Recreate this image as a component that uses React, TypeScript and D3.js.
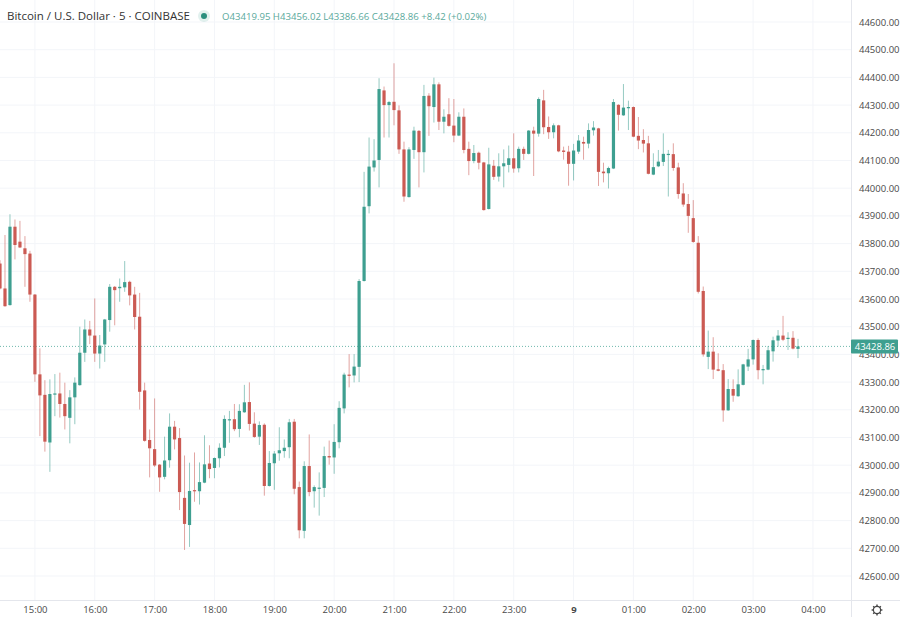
import { useEffect, useRef } from "react";
import * as d3 from "d3";

const opens = [
  43728,43638,43578,43861,43807,43783,43764,43616,43328,43254,
  43082,43255,43259,43221,43171,43245,43289,43406,43490,43468,
  43403,43436,43524,43644,43639,43642,43662,43616,43536,43270,
  43091,43058,43002,42958,43018,43139,43098,42882,42784,42910,
  42906,42937,43006,42990,43025,43063,43163,43166,43131,43191,
  43228,43150,43103,43146,42925,43007,43043,43051,43065,43157,
  42921,42763,42997,42906,42915,42918,43033,43028,43083,43205,
  43327,43324,43355,43665,43935,44075,44102,44353,44300,44312,
  44281,44140,43968,44138,44207,44130,44334,44293,44375,44240,
  44267,44226,44190,44258,44142,44098,44128,44093,43925,44081,
  44042,44079,44084,44108,44072,44142,44124,44208,44197,44317,
  44221,44202,44227,44136,44132,44088,44132,44167,44161,44209,
  44216,44060,44054,44071,44301,44263,44289,44293,44189,44174,
  44162,44049,44079,44095,44120,44123,44075,43981,43943,43892,
  43803,43629,43391,43410,43346,43343,43198,43275,43249,43290,
  43356,43382,43452,43344,43345,43411,43450,43468,43456,43460,
  43419.95,
];
const highs = [
  43740,43831,43906,43887,43882,43827,43774,43618,43422,43307,
  43310,43329,43334,43298,43271,43317,43500,43526,43521,43602,
  43470,43528,43654,43647,43674,43737,43666,43644,43622,43298,
  43129,43241,43004,43103,43187,43160,43134,43035,43009,43046,
  43010,43108,43072,43028,43079,43180,43196,43221,43220,43290,
  43299,43191,43158,43151,43051,43051,43137,43093,43167,43167,
  42941,43014,43111,42927,42974,43067,43089,43148,43231,43334,
  43401,43401,43672,44059,44183,44177,44397,44367,44315,44451,
  44299,44168,44148,44222,44210,44373,44343,44399,44382,44285,
  44325,44322,44274,44288,44168,44156,44132,44095,44146,44102,
  44126,44140,44154,44198,44150,44150,44210,44222,44328,44355,
  44259,44234,44229,44150,44153,44160,44192,44186,44234,44242,
  44218,44092,44078,44322,44303,44376,44316,44295,44257,44213,
  44189,44126,44138,44198,44138,44162,44092,44018,43979,43957,
  43827,43645,43486,43462,43404,43365,43311,43310,43346,43366,
  43420,43454,43458,43362,43430,43464,43488,43539,43480,43484,
  43456.02,
];
const lows = [
  43635,43572,43576,43743,43784,43644,43590,43301,43105,43049,
  42976,43177,43172,43129,43079,43148,43287,43373,43437,43373,
  43349,43373,43482,43505,43590,43626,43577,43490,43201,43085,
  42956,42994,42904,42949,42991,43057,42838,42694,42705,42868,
  42858,42935,42953,42953,42992,43033,43081,43123,43101,43189,
  43125,43099,43073,42890,42923,42911,43016,43027,43025,42895,
  42736,42736,42888,42847,42818,42885,43002,42969,43061,43187,
  43281,43299,43300,43663,43909,44060,44003,44183,44183,44227,
  44124,43951,43966,44106,44003,44057,44189,44237,44210,44198,
  44222,44166,44188,44126,44047,44090,44068,43919,43923,44030,
  44024,44003,44057,44056,44057,44102,44122,44044,44186,44195,
  44178,44180,44130,44103,44009,44028,44124,44103,44144,44190,
  44008,44021,43999,44069,44208,44261,44210,44184,44141,44129,
  44050,44047,44076,44080,43970,44063,43962,43933,43839,43803,
  43620,43392,43347,43311,43339,43157,43196,43229,43247,43288,
  43340,43363,43310,43292,43343,43374,43428,43448,43416,43418,
  43386.66,
];
const closes = [
  43638,43574,43861,43795,43786,43762,43616,43328,43252,43085,
  43257,43259,43221,43177,43245,43298,43406,43490,43468,43403,
  43432,43526,43644,43632,43644,43661,43613,43535,43265,43088,
  43061,42999,42956,43017,43139,43093,42903,42788,42907,42906,
  42939,43003,42986,43026,43063,43167,43166,43130,43196,43227,
  43149,43102,43145,42925,43008,43042,43054,43063,43155,42915,
  42765,42997,42903,42921,42919,43033,43028,43084,43207,43327,
  43324,43356,43665,43933,44078,44100,44358,44300,44311,44282,
  44140,43970,44140,44208,44130,44333,44296,44375,44240,44258,
  44225,44190,44258,44138,44098,44127,44092,43921,44086,44041,
  44079,44090,44108,44071,44142,44124,44208,44197,44322,44220,
  44202,44227,44133,44131,44088,44136,44172,44161,44210,44219,
  44059,44054,44073,44311,44265,44291,44293,44186,44172,44161,
  44052,44076,44096,44124,44124,44073,43979,43941,43900,43806,
  43626,43400,43410,43345,43341,43198,43275,43251,43292,43364,
  43382,43452,43343,43347,43415,43451,43468,43453,43460,43421,
  43428.86,
];
const priceTicks = d3.range(42600, 44601, 100);
const FIRST_BAR = Date.UTC(2022, 1, 8, 14, 25);
const BAR_MS = 5 * 60 * 1000;
const title = "Bitcoin / U.S. Dollar · 5 · COINBASE";
const ohlc = "O43419.95 H43456.02 L43386.66 C43428.86 +8.42 (+0.02%)";
const lastPrice = 43428.86;

const UP = "#3e9f90";
const DOWN = "#cb5a53";
const GRID = "#f3f5f9";
const BORDER = "#e4e6ec";
const FONT = "'Open Sans', sans-serif";

export default function App() {
  const svgRef = useRef<SVGSVGElement>(null);

  useEffect(() => {
    const svg = d3.select(svgRef.current);
    svg.selectAll("*").remove();

    const W = 851;
    const H = 600;

    const xScale = d3.scaleUtc()
      .domain([new Date(FIRST_BAR), new Date(FIRST_BAR + 160 * BAR_MS)])
      .range([0, 798]);
    const yScale = d3.scaleLinear().domain([42600, 44600]).range([576, 22]);

    const bars = opens.map((open, i) => ({
      t: new Date(FIRST_BAR + i * BAR_MS),
      open, high: highs[i], low: lows[i], close: closes[i],
    }));
    const hours = d3.utcHour.range(new Date(Date.UTC(2022, 1, 8, 15)), new Date(Date.UTC(2022, 1, 9, 4, 1)));

    // Grid
    svg.append("g").selectAll("line")
      .data(hours)
      .enter().append("line")
      .attr("x1", d => xScale(d)).attr("x2", d => xScale(d))
      .attr("y1", 0).attr("y2", H)
      .attr("stroke", GRID);
    svg.append("g").selectAll("line")
      .data(priceTicks)
      .enter().append("line")
      .attr("x1", 0).attr("x2", W)
      .attr("y1", d => yScale(d)).attr("y2", d => yScale(d))
      .attr("stroke", GRID);

    // Last price line
    svg.append("line")
      .attr("x1", 0).attr("x2", W)
      .attr("y1", yScale(lastPrice)).attr("y2", yScale(lastPrice))
      .attr("stroke", UP).attr("stroke-opacity", 0.75)
      .attr("stroke-dasharray", "1,2");

    // Candles
    const color = (d: { open: number; close: number }) => (d.close >= d.open ? UP : DOWN);
    svg.append("g").selectAll("line")
      .data(bars)
      .enter().append("line")
      .attr("x1", d => xScale(d.t)).attr("x2", d => xScale(d.t))
      .attr("y1", d => yScale(d.high)).attr("y2", d => yScale(d.low))
      .attr("stroke", color).attr("stroke-opacity", 0.55);
    svg.append("g").selectAll("rect")
      .data(bars)
      .enter().append("rect")
      .attr("x", d => xScale(d.t) - 1.6)
      .attr("width", 3.2)
      .attr("y", d => yScale(Math.max(d.open, d.close)))
      .attr("height", d => Math.max(1.2, Math.abs(yScale(d.open) - yScale(d.close))))
      .attr("fill", color);

    // Axes
    const yAxis = svg.append("g")
      .attr("transform", `translate(${W},0)`)
      .call(d3.axisRight(yScale).tickValues(priceTicks).tickSize(0).tickPadding(8).tickFormat(d => (+d).toFixed(2)));
    yAxis.select(".domain").remove();
    yAxis.selectAll(".tick text")
      .attr("fill", "#4a4a4a").attr("font-size", 9.5).attr("font-family", FONT);

    const xAxis = svg.append("g")
      .attr("transform", `translate(0,${H})`)
      .call(d3.axisBottom(xScale).tickValues(hours).tickSize(0).tickPadding(6)
        .tickFormat(d => (d3.utcHour.count(d3.utcDay(d as Date), d as Date) === 0 ? "9" : d3.utcFormat("%H:%M")(d as Date))));
    xAxis.select(".domain").remove();
    xAxis.selectAll(".tick text")
      .attr("fill", "#4a4a4a").attr("font-size", 9.5).attr("font-family", FONT)
      .attr("font-weight", d => (d3.utcHour.count(d3.utcDay(d as Date), d as Date) === 0 ? 700 : 400));

    svg.append("line").attr("x1", 0).attr("x2", 900).attr("y1", H + 0.5).attr("y2", H + 0.5).attr("stroke", BORDER);
    svg.append("line").attr("x1", W + 0.5).attr("x2", W + 0.5).attr("y1", 0).attr("y2", 617).attr("stroke", BORDER);

    // Last price tag
    svg.append("rect")
      .attr("x", W).attr("y", yScale(lastPrice) - 7)
      .attr("width", 47).attr("height", 14).attr("rx", 1)
      .attr("fill", UP);
    svg.append("text")
      .attr("x", W + 24).attr("y", yScale(lastPrice) + 3.5)
      .attr("text-anchor", "middle")
      .attr("fill", "white").attr("font-size", 9.5).attr("font-family", FONT)
      .text(lastPrice.toFixed(2));

    // Legend
    svg.append("text")
      .attr("x", 7).attr("y", 20)
      .attr("fill", "#333").attr("font-size", 11.5).attr("font-family", FONT)
      .text(title);
    svg.append("circle").attr("cx", 204).attr("cy", 16).attr("r", 6).attr("fill", UP).attr("opacity", 0.15);
    svg.append("circle").attr("cx", 204).attr("cy", 16).attr("r", 3).attr("fill", "#2b8f7e");
    svg.append("text")
      .attr("x", 222).attr("y", 20)
      .attr("fill", "#5aa99c").attr("font-size", 9.6).attr("font-family", FONT)
      .text(ohlc);

    // Settings gear
    const gear = svg.append("g").attr("transform", "translate(877,610)")
      .attr("stroke", "#444").attr("fill", "none");
    gear.append("circle").attr("r", 3.6).attr("stroke-width", 1.2);
    gear.selectAll("line")
      .data(d3.range(8))
      .enter().append("line")
      .attr("x1", d => 3.6 * Math.cos(d * Math.PI / 4)).attr("y1", d => 3.6 * Math.sin(d * Math.PI / 4))
      .attr("x2", d => 5.4 * Math.cos(d * Math.PI / 4)).attr("y2", d => 5.4 * Math.sin(d * Math.PI / 4))
      .attr("stroke-width", 1.4);
  }, []);

  return (
    <svg
      ref={svgRef}
      width={900}
      height={617}
      style={{ position: "absolute", left: 0, top: 0, background: "white" }}
    />
  );
}
